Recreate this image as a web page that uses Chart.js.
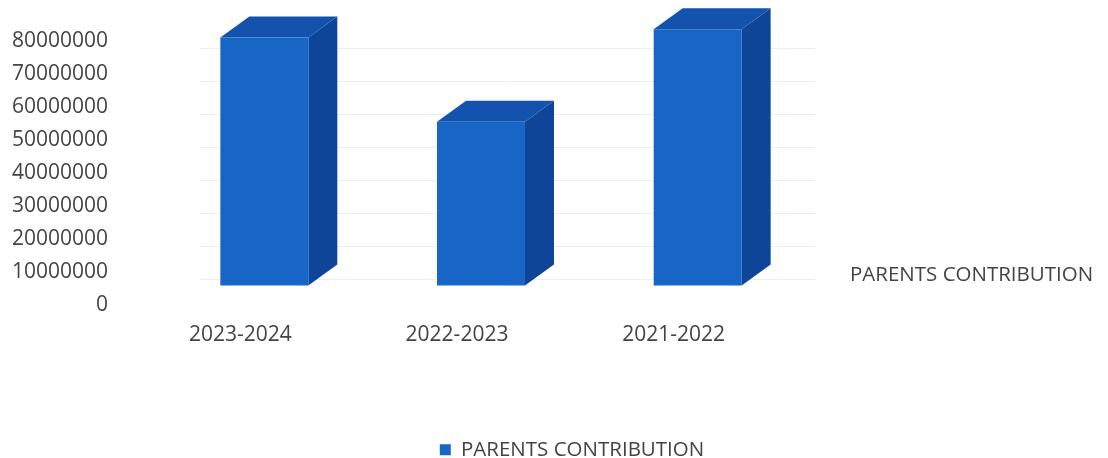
<!DOCTYPE html>
<html>
<head>
<meta charset="utf-8">
<script src="https://cdn.jsdelivr.net/npm/chart.js@4.4.1/dist/chart.umd.min.js"></script>
<style>
  html, body { margin: 0; padding: 0; background: #ffffff; }
  #wrap { width: 1108px; height: 458px; }
</style>
</head>
<body>
<div id="wrap"><canvas id="chart" width="1108" height="458"></canvas></div>
<script>
const years = ['2023-2024', '2022-2023', '2021-2022'];
const contribution = [75000000, 49500000, 77500000];
const seriesName = 'PARENTS CONTRIBUTION';
const yTicks = [0, 10000000, 20000000, 30000000, 40000000, 50000000, 60000000, 70000000, 80000000];

const textColor = '#444444';
const frontColor = '#1766c6';
const sideColor = '#0f4599';
const topColor = '#1352ad';

// fake 3d: front face is pushed into the floor, side and top faces go back
const shift = { x: 24, y: -20 };
const depth = { x: 29, y: -21 };

const box3d = {
    id: 'box3d',
    beforeDatasetsDraw(chart) {
        const ctx = chart.ctx;
        const area = chart.chartArea;
        const yScale = chart.scales.y;

        // back wall gridlines
        ctx.save();
        ctx.strokeStyle = '#ededed';
        ctx.lineWidth = 1;
        yScale.ticks.forEach(t => {
            if (t.value === 0) return;
            const py = Math.round(yScale.getPixelForValue(t.value) + 7) + 0.5;
            ctx.beginPath();
            ctx.moveTo(area.left + 68, py);
            ctx.lineTo(area.right + 33, py);
            ctx.stroke();
        });
        ctx.restore();

        const meta = chart.getDatasetMeta(0);
        meta.data.forEach(bar => {
            const p = bar.getProps(['x', 'y', 'base', 'width'], true);
            const l = p.x - p.width / 2 + shift.x;
            const r = p.x + p.width / 2 + shift.x;
            const t = p.y + shift.y;
            const b = p.base + shift.y;

            ctx.save();
            // side
            ctx.fillStyle = sideColor;
            ctx.beginPath();
            ctx.moveTo(r, t);
            ctx.lineTo(r + depth.x, t + depth.y);
            ctx.lineTo(r + depth.x, b + depth.y);
            ctx.lineTo(r, b);
            ctx.closePath();
            ctx.fill();
            // top
            ctx.fillStyle = topColor;
            ctx.beginPath();
            ctx.moveTo(l, t);
            ctx.lineTo(l + depth.x, t + depth.y);
            ctx.lineTo(r + depth.x, t + depth.y);
            ctx.lineTo(r, t);
            ctx.closePath();
            ctx.fill();
            // front
            ctx.fillStyle = frontColor;
            ctx.fillRect(l, t, r - l, b - t);
            ctx.restore();
        });
        return false;
    },
    afterDraw(chart) {
        const ctx = chart.ctx;
        const area = chart.chartArea;
        const yScale = chart.scales.y;
        ctx.save();
        ctx.fillStyle = textColor;
        ctx.font = '20.5px "Open Sans"';
        ctx.textAlign = 'left';
        ctx.textBaseline = 'middle';
        ctx.fillText(chart.data.datasets[0].label, area.right + 68, yScale.getPixelForValue(0) - 30);
        ctx.restore();
    }
};

new Chart(document.getElementById('chart'), {
    type: 'bar',
    data: {
        labels: years,
        datasets: [{
            label: seriesName,
            data: contribution,
            backgroundColor: frontColor,
            categoryPercentage: 1,
            barPercentage: 0.406
        }]
    },
    options: {
        responsive: false,
        animation: false,
        layout: { padding: { top: 41, right: -36, bottom: -12, left: 0 } },
        plugins: {
            legend: {
                position: 'bottom',
                labels: {
                    color: textColor,
                    font: { family: 'Open Sans', size: 20.5 },
                    boxWidth: 11,
                    boxHeight: 11,
                    padding: 0
                }
            },
            tooltip: { enabled: false }
        },
        scales: {
            x: {
                grid: { display: false, drawTicks: false },
                border: { display: false },
                ticks: { color: textColor, font: { family: 'Open Sans', size: 21 }, padding: 17 },
                afterFit(scale) { scale.height = 134; }
            },
            y: {
                min: 0,
                max: 80000000,
                afterBuildTicks(scale) { scale.ticks = yTicks.map(v => ({ value: v })); },
                grid: { display: false, drawTicks: false },
                border: { display: false },
                ticks: {
                    color: textColor,
                    font: { family: 'Open Sans', size: 21 },
                    padding: 24,
                    callback: v => String(v)
                },
                afterFit(scale) { scale.width = 132; }
            },
            // empty right axis keeps room for the series name
            side: {
                type: 'linear',
                position: 'right',
                display: true,
                grid: { display: false, drawTicks: false },
                border: { display: false },
                ticks: { display: false },
                afterFit(scale) { scale.width = 362; }
            }
        }
    },
    plugins: [box3d]
});
</script>
</body>
</html>
